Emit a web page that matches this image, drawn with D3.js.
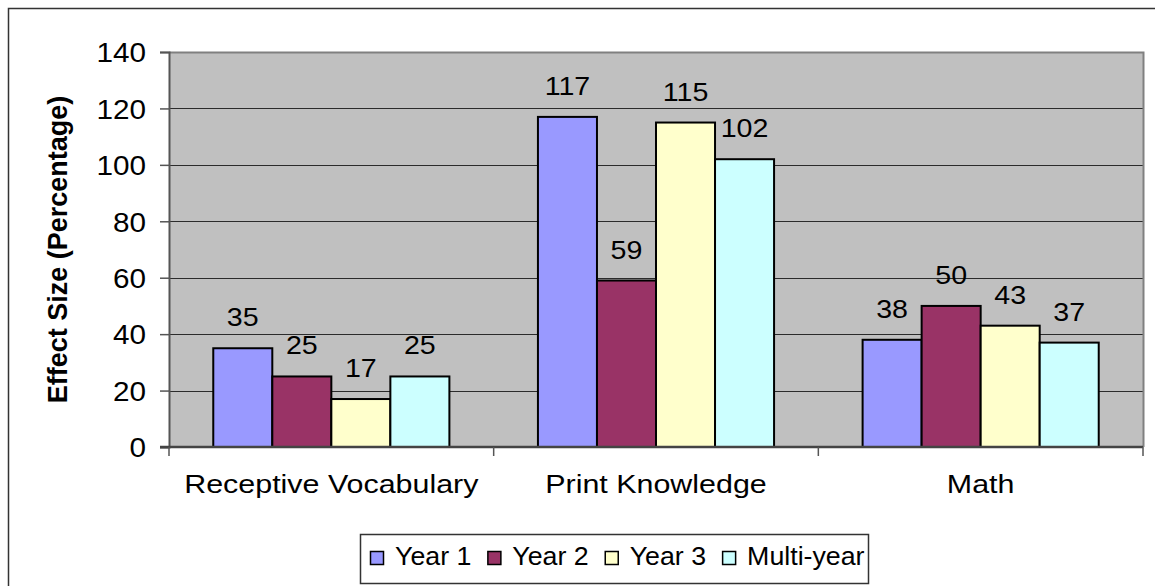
<!DOCTYPE html>
<html>
<head>
<meta charset="utf-8">
<script src="https://cdnjs.cloudflare.com/ajax/libs/d3/7.8.5/d3.min.js"></script>
<style>
  body { margin: 0; background: #ffffff; }
  svg { display: block; }
  text { font-family: "Liberation Sans", Arial, Helvetica, sans-serif; fill: #000; }
</style>
</head>
<body>
<div id="chart"></div>
<script>
// data
var categories = ["Receptive Vocabulary", "Print Knowledge", "Math"];
var seriesNames = ["Year 1", "Year 2", "Year 3", "Multi-year"];
var year1 = [35, 117, 38];
var year2 = [25, 59, 50];
var year3 = [17, 115, 43];
var multiYear = [25, 102, 37];
var yTicks = [0, 20, 40, 60, 80, 100, 120, 140];

var seriesValues = [year1, year2, year3, multiYear];
var colors = ["#9999ff", "#993366", "#ffffcc", "#ccffff"];

var width = 1155, height = 586;
var plot = {left: 169, right: 1143, top: 52, bottom: 447};

// the reference text is a little wider than Arial, stretch it sideways
function stretch(sel, k){
    sel.each(function(){
        var len = this.getComputedTextLength();
        d3.select(this)
            .attr("textLength", len * k)
            .attr("lengthAdjust", "spacingAndGlyphs");
    });
}

var svg = d3.select("#chart")
    .append("svg")
    .attr("width", width)
    .attr("height", height);

// outer chart border (runs off the right and bottom edges)
svg.append("rect")
    .attr("x", 8.5)
    .attr("y", 8.5)
    .attr("width", width + 20)
    .attr("height", height + 20)
    .attr("fill", "none")
    .attr("stroke", "#333")
    .attr("stroke-width", 1.5);

// --- SCALES --- //
var x0 = d3.scaleBand()
    .domain(categories)
    .range([plot.left, plot.right])
    .paddingInner(0)
    .paddingOuter(0);

var x1 = d3.scaleBand()
    .domain(seriesNames)
    .range([0, x0.bandwidth()])
    .paddingInner(0)
    .paddingOuter(0.75);

var yScale = d3.scaleLinear()
    .domain([0, 140])
    .range([plot.bottom, plot.top]);

// plot background
svg.append("rect")
    .attr("x", plot.left)
    .attr("y", plot.top)
    .attr("width", plot.right - plot.left)
    .attr("height", plot.bottom - plot.top)
    .attr("fill", "#c0c0c0");

// gridlines
svg.append("g")
    .selectAll("line")
    .data(yTicks.filter(d => d > 0 && d < 140))
    .enter()
    .append("line")
    .attr("x1", plot.left)
    .attr("x2", plot.right)
    .attr("y1", d => Math.round(yScale(d)) + 0.5)
    .attr("y2", d => Math.round(yScale(d)) + 0.5)
    .attr("stroke", "#2b2b2b")
    .attr("stroke-width", 1);

// top and right plot border
svg.append("path")
    .attr("d", "M" + plot.left + "," + (plot.top + 0.5) + "H" + (plot.right + 0.5) + "V" + plot.bottom)
    .attr("fill", "none")
    .attr("stroke", "#808080")
    .attr("stroke-width", 2);

// --- BARS --- //
var groups = svg.append("g")
    .selectAll("g")
    .data(categories)
    .enter()
    .append("g")
    .attr("transform", d => "translate(" + x0(d) + ",0)");

groups.selectAll("rect")
    .data((c, i) => seriesNames.map((s, j) => ({series: s, value: seriesValues[j][i], color: colors[j]})))
    .enter()
    .append("rect")
    .attr("x", d => x1(d.series))
    .attr("y", d => yScale(d.value))
    .attr("width", x1.bandwidth())
    .attr("height", d => plot.bottom - yScale(d.value))
    .attr("fill", d => d.color)
    .attr("stroke", "#000")
    .attr("stroke-width", 2);

// value labels
var valueLabels = groups.selectAll("text")
    .data((c, i) => seriesNames.map((s, j) => ({series: s, value: seriesValues[j][i]})))
    .enter()
    .append("text")
    .attr("x", d => x1(d.series) + x1.bandwidth() / 2)
    .attr("y", d => yScale(d.value) - 22)
    .attr("text-anchor", "middle")
    .attr("font-size", "26px")
    .text(d => d.value);
stretch(valueLabels, 1.1);

// --- AXES --- //
var yAxis = svg.append("g")
    .attr("transform", "translate(" + plot.left + ",0)")
    .call(d3.axisLeft(yScale).tickValues(yTicks).tickSize(9).tickPadding(14));
yAxis.select(".domain").attr("stroke", "#555").attr("stroke-width", 2);
yAxis.selectAll(".tick line").attr("stroke", "#555").attr("stroke-width", 1.5);
yAxis.selectAll(".tick text")
    .attr("font-size", "27px")
    .attr("font-family", "'Liberation Sans', Arial, sans-serif")
    .attr("fill", "#000")
    .attr("dy", "0.36em");
stretch(yAxis.selectAll(".tick text"), 1.1);

var xAxis = svg.append("g")
    .attr("transform", "translate(0," + plot.bottom + ")")
    .call(d3.axisBottom(x0).tickSize(0).tickPadding(28));
xAxis.select(".domain").remove();
xAxis.selectAll(".tick text")
    .attr("font-size", "26px")
    .attr("font-family", "'Liberation Sans', Arial, sans-serif")
    .attr("fill", "#000");
stretch(xAxis.selectAll(".tick text"), 1.17);

// x axis line and category dividers
svg.append("line")
    .attr("x1", plot.left - 9)
    .attr("x2", plot.right)
    .attr("y1", plot.bottom)
    .attr("y2", plot.bottom)
    .attr("stroke", "#444")
    .attr("stroke-width", 2.5);

svg.append("g")
    .selectAll("line")
    .data(categories.map(c => x0(c)).concat([plot.right]))
    .enter()
    .append("line")
    .attr("x1", d => d)
    .attr("x2", d => d)
    .attr("y1", plot.bottom)
    .attr("y2", plot.bottom + 9)
    .attr("stroke", "#555")
    .attr("stroke-width", 1.5);

// y axis title
svg.append("text")
    .attr("transform", "translate(67," + (plot.top + plot.bottom) / 2 + ") rotate(-90)")
    .attr("text-anchor", "middle")
    .attr("font-size", "27px")
    .attr("font-weight", "bold")
    .text("Effect Size (Percentage)");

// --- LEGEND --- //
var legend = svg.append("g");
legend.append("rect")
    .attr("x", 360.5)
    .attr("y", 534.5)
    .attr("width", 508)
    .attr("height", 49)
    .attr("fill", "#fff")
    .attr("stroke", "#333")
    .attr("stroke-width", 1.5);

var lx = 370;
seriesNames.forEach(function(name, i){
    legend.append("rect")
        .attr("x", lx + 0.5)
        .attr("y", 551.5)
        .attr("width", 13)
        .attr("height", 13)
        .attr("fill", colors[i])
        .attr("stroke", "#000")
        .attr("stroke-width", 1.5);
    var t = legend.append("text")
        .attr("x", lx + 25)
        .attr("y", 565)
        .attr("font-size", "25px")
        .text(name);
    var w = t.node().getComputedTextLength() * 1.07;
    t.attr("textLength", w).attr("lengthAdjust", "spacingAndGlyphs");
    lx = lx + 25 + w + 16;
});
</script>
</body>
</html>
